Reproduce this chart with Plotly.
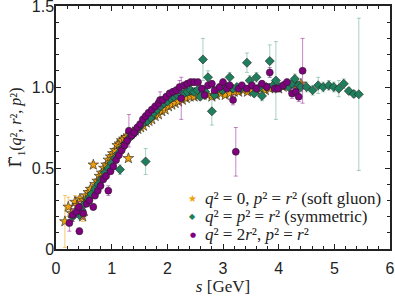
import plotly.graph_objects as go

# ---- data ----
s_soft = [0.16, 0.22, 0.28, 0.34, 0.38, 0.43, 0.48, 0.50, 0.54, 0.58, 0.62, 0.67, 0.70, 0.74, 0.78,
          0.82, 0.86, 0.90, 0.94, 0.98, 1.02, 1.06, 1.10, 1.14, 1.18, 1.22, 1.26, 1.30, 1.34, 1.38,
          1.42, 1.47, 1.52, 1.57, 1.62, 1.67, 1.72, 1.78, 1.84, 1.90, 1.96, 2.02, 2.08, 2.14, 2.20,
          2.27, 2.34, 2.41, 2.48, 2.56, 2.64, 2.72, 2.80, 2.88, 2.96, 3.04, 3.12, 3.20, 3.28, 3.36,
          3.44, 3.52, 3.60, 3.68, 3.76, 3.84, 3.92, 4.00, 4.08, 4.16, 4.24, 4.32, 4.40]
y_soft = [0.17, 0.26, 0.22, 0.29, 0.27, 0.31, 0.20, 0.30, 0.33, 0.35, 0.37, 0.52, 0.40, 0.42, 0.45,
          0.47, 0.50, 0.52, 0.55, 0.57, 0.59, 0.61, 0.64, 0.65, 0.67, 0.68, 0.69, 0.56, 0.71, 0.72,
          0.73, 0.74, 0.75, 0.76, 0.78, 0.79, 0.80, 0.82, 0.83, 0.85, 0.86, 0.88, 0.89, 0.90, 0.91,
          0.92, 0.93, 0.94, 0.94, 0.95, 0.95, 0.95, 0.94, 0.95, 0.96, 0.95, 0.96, 0.97, 0.97, 0.98,
          0.97, 0.98, 0.98, 0.99, 0.98, 0.99, 1.00, 0.99, 1.00, 1.01, 1.02, 1.01, 1.02]
e_soft = [0.16, 0.06, 0.05, 0.04, 0.03, 0.02, 0.03, 0.02, 0.02, 0.02, 0.02, 0.02, 0.02, 0.015, 0.015,
          0.015, 0.015, 0.015, 0.015, 0.015, 0.015, 0.015, 0.015, 0.015, 0.015, 0.015, 0.015, 0.02, 0.015, 0.015,
          0.015, 0.015, 0.015, 0.015, 0.015, 0.015, 0.015, 0.015, 0.015, 0.015, 0.015, 0.015, 0.015, 0.015, 0.015,
          0.015, 0.015, 0.015, 0.015, 0.015, 0.015, 0.015, 0.015, 0.015, 0.015, 0.015, 0.015, 0.015, 0.015, 0.015,
          0.015, 0.015, 0.015, 0.015, 0.015, 0.015, 0.015, 0.015, 0.015, 0.015, 0.015, 0.015, 0.015]

s_sym = [0.30, 0.42, 0.46, 0.52, 0.58, 0.64, 0.70, 0.76, 0.82, 0.88, 0.94, 1.00, 1.06, 1.12, 1.15,
         1.18, 1.24, 1.30, 1.36, 1.42, 1.48, 1.54, 1.61, 1.64, 1.70, 1.76, 1.82, 1.88, 1.94, 2.00,
         2.06, 2.12, 2.18, 2.24, 2.30, 2.36, 2.42, 2.48, 2.54, 2.59, 2.64, 2.68, 2.73, 2.80, 2.85,
         2.92, 3.00, 3.06, 3.12, 3.18, 3.25, 3.32, 3.43, 3.48, 3.56, 3.60, 3.66, 3.70, 3.78, 3.84,
         3.90, 3.95, 4.02, 4.10, 4.18, 4.24, 4.29, 4.36, 4.40, 4.50, 4.61, 4.71, 4.80, 4.90, 4.99,
         5.08, 5.17, 5.26, 5.35, 5.44]
y_sym = [0.20, 0.21, 0.24, 0.28, 0.31, 0.34, 0.37, 0.40, 0.43, 0.47, 0.50, 0.53, 0.56, 0.59, 0.49,
         0.62, 0.65, 0.68, 0.70, 0.72, 0.75, 0.77, 0.54, 0.79, 0.81, 0.84, 0.86, 0.88, 0.90, 0.91,
         0.93, 0.94, 0.95, 0.96, 0.96, 0.97, 0.98, 0.97, 0.98, 0.94, 1.17, 0.97, 1.06, 0.85, 0.95,
         0.99, 0.98, 1.00, 1.06, 0.99, 1.00, 0.99, 1.15, 1.04, 0.96, 1.06, 1.00, 0.945, 1.00, 1.16,
         1.01, 1.04, 1.00, 1.01, 1.00, 1.02, 1.05, 1.01, 1.00, 1.00, 0.98, 1.01, 1.00, 1.01, 1.00,
         0.99, 1.02, 0.975, 0.957, 0.955]
e_sym = [0.03, 0.03, 0.02, 0.02, 0.02, 0.02, 0.02, 0.02, 0.02, 0.02, 0.02, 0.02, 0.02, 0.02, 0.03,
         0.02, 0.02, 0.02, 0.02, 0.02, 0.02, 0.02, 0.08, 0.02, 0.02, 0.02, 0.02, 0.02, 0.02, 0.02,
         0.02, 0.02, 0.02, 0.02, 0.02, 0.02, 0.02, 0.02, 0.02, 0.02, 0.13, 0.02, 0.04, 0.085, 0.02,
         0.02, 0.02, 0.02, 0.03, 0.02, 0.02, 0.02, 0.06, 0.03, 0.02, 0.03, 0.02, 0.03, 0.02, 0.10,
         0.02, 0.24, 0.02, 0.02, 0.02, 0.02, 0.03, 0.02, 0.03, 0.03, 0.03, 0.05, 0.03, 0.03, 0.03,
         0.05, 0.03, 0.02, 0.02, 0.47]

s_asym = [0.24, 0.30, 0.37, 0.41, 0.42, 0.49, 0.55, 0.60, 0.67, 0.70, 0.75, 0.80, 0.85, 0.90, 0.94,
          0.98, 1.03, 1.08, 1.13, 1.18, 1.23, 1.28, 1.31, 1.36, 1.41, 1.46, 1.51, 1.56, 1.61, 1.66,
          1.72, 1.78, 1.84, 1.87, 1.92, 1.98, 2.04, 2.10, 2.16, 2.22, 2.25, 2.30, 2.36, 2.42, 2.48,
          2.55, 2.62, 2.67, 2.73, 2.80, 2.85, 2.94, 3.00, 3.07, 3.12, 3.18, 3.23, 3.28, 3.34, 3.43,
          3.52, 3.60, 3.70, 3.79, 3.84, 3.93, 3.99, 4.08, 4.15, 4.24, 4.31, 4.36, 4.43]
y_asym = [0.16, 0.21, 0.23, 0.26, 0.11, 0.22, 0.28, 0.30, 0.26, 0.33, 0.36, 0.39, 0.43, 0.45, 0.36,
          0.48, 0.51, 0.55, 0.58, 0.61, 0.64, 0.67, 0.73, 0.70, 0.72, 0.75, 0.77, 0.80, 0.82, 0.84,
          0.86, 0.88, 0.90, 0.92, 0.92, 0.94, 0.96, 0.97, 0.98, 1.00, 0.93, 1.01, 1.02, 1.03, 1.03,
          1.03, 0.99, 0.95, 1.01, 1.02, 0.98, 1.00, 1.03, 0.99, 1.01, 0.92, 0.60, 0.99, 1.01, 0.99,
          1.01, 0.99, 1.02, 1.00, 1.09, 0.99, 0.99, 1.01, 1.03, 0.96, 0.97, 0.94, 1.10]
e_asym = [0.05, 0.04, 0.03, 0.03, 0.02, 0.03, 0.02, 0.02, 0.02, 0.02, 0.02, 0.02, 0.02, 0.02, 0.03,
          0.02, 0.02, 0.02, 0.02, 0.02, 0.02, 0.02, 0.10, 0.02, 0.02, 0.02, 0.02, 0.02, 0.02, 0.02,
          0.02, 0.02, 0.02, 0.05, 0.02, 0.02, 0.02, 0.02, 0.02, 0.04, 0.13, 0.02, 0.02, 0.02, 0.02,
          0.02, 0.02, 0.02, 0.02, 0.02, 0.02, 0.02, 0.02, 0.02, 0.02, 0.03, 0.15, 0.02, 0.02, 0.02,
          0.02, 0.02, 0.02, 0.02, 0.03, 0.02, 0.02, 0.02, 0.02, 0.03, 0.03, 0.03, 0.20]

x_ticks = [0, 1, 2, 3, 4, 5, 6]
y_ticks = [0, 0.5, 1.0, 1.5]
y_ticklabels = ["0", "0.5", "1.0", "1.5"]

labels = ["<i>q</i>² = 0, <i>p</i>² = <i>r</i>² (soft gluon)",
          "<i>q</i>² = <i>p</i>² = <i>r</i>² (symmetric)",
          "<i>q</i>² = 2<i>r</i>², <i>p</i>² = <i>r</i>²"]
legend_glyphs = ["★", "◆", "●"]

# ---- figure ----
ORANGE = "#EFA00B"
GREEN = "#1F7F5C"
PURPLE = "#80007F"
INK = "#222222"
SERIF = "Liberation Serif, Times New Roman, serif"

fig = go.Figure()
series = [
    (s_soft, y_soft, e_soft, "star", ORANGE, "rgba(240,165,20,0.6)", 8),
    (s_sym, y_sym, e_sym, "diamond", GREEN, "rgba(40,140,100,0.4)", 7),
    (s_asym, y_asym, e_asym, "circle", PURPLE, "rgba(140,20,140,0.5)", 7),
]
for (xs, ys, es, sym, col, ecol, size), name in zip(series, labels):
    fig.add_trace(go.Scatter(
        x=xs, y=ys, mode="markers", showlegend=False, name=name,
        marker=dict(symbol=sym, color=col, size=size, line=dict(color=INK, width=0.6)),
        error_y=dict(type="data", array=es, visible=True, color=ecol, thickness=1, width=2),
    ))

# legend drawn as text (key glyph + label) in the lower right of the axes
row_y = [0.206, 0.132, 0.058]
glyph_sizes = [10, 8, 7]
for (xs, ys, es, sym, col, ecol, size), name, glyph, gy, gs in zip(series, labels, legend_glyphs, row_y, glyph_sizes):
    fig.add_annotation(xref="paper", yref="paper", x=0.41, y=gy, xanchor="center", yanchor="middle",
                       text=glyph, showarrow=False,
                       font=dict(family="DejaVu Sans, sans-serif", size=gs, color=col))
    fig.add_annotation(xref="paper", yref="paper", x=0.44, y=gy, xanchor="left", yanchor="middle",
                       text=name, showarrow=False,
                       font=dict(family=SERIF, size=17, color=INK))

axis_common = dict(
    showline=True, linecolor=INK, linewidth=1.5, mirror="allticks",
    ticks="inside", ticklen=5, tickwidth=1, tickcolor=INK,
    showgrid=False, zeroline=False, automargin=False, ticklabeloverflow="allow",
    tickfont=dict(family="Liberation Sans, Arial, sans-serif", size=16, color=INK),
)

fig.update_xaxes(
    range=[0, 6], tickvals=x_ticks, ticktext=[str(v) for v in x_ticks],
    ticklabelstandoff=4,
    minor=dict(dtick=0.2, ticks="inside", ticklen=3, tickcolor=INK, showgrid=False),
    title=dict(text="<i>s</i> [GeV]", standoff=3,
               font=dict(family=SERIF, size=17, color=INK)),
    **axis_common,
)
fig.update_yaxes(
    range=[0, 1.5], tickvals=y_ticks, ticktext=y_ticklabels,
    ticklabelstandoff=-3,
    minor=dict(dtick=0.1, ticks="inside", ticklen=3, tickcolor=INK, showgrid=False),
    title=dict(text='<span style="font-family:DejaVu Serif">Γ\u0303</span><sub>1</sub>(<i>q</i>², <i>r</i>², <i>p</i>²)',
               standoff=6, font=dict(family=SERIF, size=16, color=INK)),
    **axis_common,
)

fig.update_layout(
    width=395, height=299,
    margin=dict(l=56, r=5, t=6, b=50),
    paper_bgcolor="white", plot_bgcolor="white",
    showlegend=False,
)

fig.write_html("out.html", config={"displayModeBar": False},
               post_script="document.body.style.margin='0px';")
